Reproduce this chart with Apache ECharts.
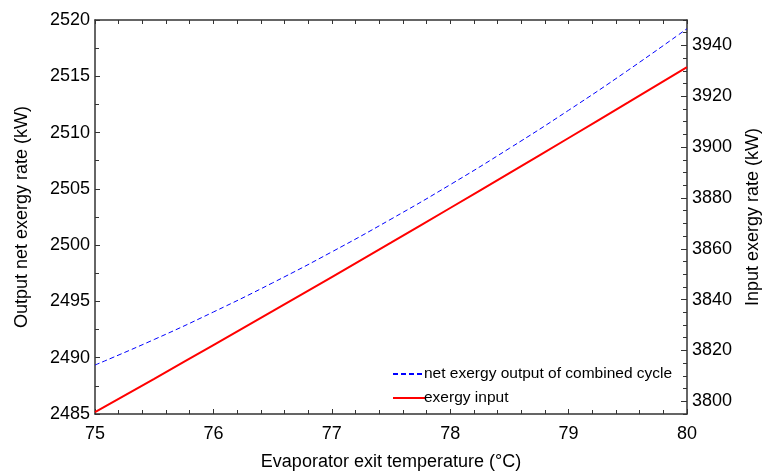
<!DOCTYPE html>
<html lang="en">

<head>
    <meta charset="UTF-8">
    <title>Exergy vs evaporator exit temperature</title>
    <style>
        html, body { margin: 0; padding: 0; background: #fff; }
        .chart { width: 763px; height: 472px; }
    </style>
</head>

<body>
    <div class="chart" id="chart"></div>
</body>
<script src="https://cdn.jsdelivr.net/npm/echarts@6/dist/echarts.min.js"></script>

<script>
    // evaporator exit temperature (°C)
    var temps = [75, 75.5, 76, 76.5, 77, 77.5, 78, 78.5, 79, 79.5, 80];
    // net exergy output of combined cycle (kW), left axis
    var netOutput = [2489.35, 2491.62, 2494.06, 2496.65, 2499.40, 2502.31, 2505.37, 2508.60, 2511.98, 2515.52, 2519.23];
    // exergy input (kW), right axis
    var exergyInput = [3795.7, 3808.85, 3822.1, 3835.45, 3848.88, 3862.4, 3876.04, 3889.77, 3903.58, 3917.5, 3931.5];
    var rightMajorTicks = [3800, 3820, 3840, 3860, 3880, 3900, 3920, 3940];

    var font = 'Liberation Sans, Arial, sans-serif';
    var lineColor = '#333';
    var plain = function (v) { return String(v); };

    var mChart = echarts.init(document.getElementById('chart'));
    var option = {
        animation: false,
        textStyle: { fontFamily: font },
        grid: { left: 95, right: 76, top: 20, bottom: 58, outerBoundsMode: 'none' },
        legend: {
            orient: 'vertical',
            left: 387,
            top: 361,
            itemWidth: 32,
            itemHeight: 12,
            itemGap: 8,
            itemStyle: { opacity: 0 },
            textStyle: { fontSize: 15.5, color: '#000', fontFamily: font, padding: [0, 0, 0, -6] },
            data: ['net exergy output of combined cycle', 'exergy input']
        },
        xAxis: [
            {
                type: 'value',
                min: 75, max: 80, interval: 1,
                name: 'Evaporator exit temperature (°C)',
                nameLocation: 'middle',
                nameGap: 39,
                nameTextStyle: { fontSize: 18, color: '#000' },
                axisLine: { lineStyle: { color: lineColor, width: 1.5 } },
                axisTick: { inside: true, length: 5, lineStyle: { color: lineColor } },
                minorTick: { show: true, splitNumber: 5, length: 4, lineStyle: { color: lineColor } },
                axisLabel: { fontSize: 18, color: '#000', margin: 11, formatter: plain },
                splitLine: { show: false }
            },
            {
                // top frame with mirrored ticks
                type: 'value', position: 'top',
                min: 75, max: 80, interval: 1,
                axisLine: { lineStyle: { color: lineColor, width: 1.5 } },
                axisTick: { inside: true, length: 4, lineStyle: { color: lineColor } },
                minorTick: { show: true, splitNumber: 5, length: 4, lineStyle: { color: lineColor } },
                axisLabel: { show: false },
                splitLine: { show: false }
            }
        ],
        yAxis: [
            {
                type: 'value',
                min: 2485, max: 2520, interval: 5,
                name: 'Output net exergy rate (kW)',
                nameLocation: 'middle',
                nameGap: 64,
                nameTextStyle: { fontSize: 18, color: '#000' },
                axisLine: { show: true, lineStyle: { color: lineColor, width: 1.5 } },
                axisTick: { inside: true, length: 5, lineStyle: { color: lineColor } },
                minorTick: { show: true, splitNumber: 2, length: 4, lineStyle: { color: lineColor } },
                axisLabel: { fontSize: 18, color: '#000', margin: 5, formatter: plain },
                splitLine: { show: false }
            },
            {
                type: 'value', position: 'right',
                min: 3795, max: 3950, interval: 5,
                name: 'Input exergy rate (kW)',
                nameLocation: 'middle',
                nameGap: 57,
                nameTextStyle: { fontSize: 18, color: '#000' },
                axisLine: { show: true, lineStyle: { color: lineColor, width: 1.5 } },
                axisTick: { inside: true, length: 4, lineStyle: { color: lineColor } },
                axisLabel: {
                    fontSize: 18, color: '#000', margin: 5,
                    formatter: function (v) { return v % 20 === 0 ? String(v) : ''; }
                },
                splitLine: { show: false }
            },
            {
                // longer ticks at the labelled values of the right axis
                type: 'value', position: 'right',
                min: 3795, max: 3950,
                axisLine: { show: false },
                axisTick: { inside: true, length: 6, customValues: rightMajorTicks, lineStyle: { color: lineColor } },
                axisLabel: { show: false },
                splitLine: { show: false }
            }
        ],
        series: [
            {
                name: 'net exergy output of combined cycle',
                type: 'line',
                yAxisIndex: 0,
                symbol: 'none',
                smooth: true,
                color: '#0000ff',
                lineStyle: { color: '#0000ff', width: 1, type: [5, 3] },
                data: temps.map(function (t, i) { return [t, netOutput[i]]; })
            },
            {
                name: 'exergy input',
                type: 'line',
                yAxisIndex: 1,
                symbol: 'none',
                smooth: true,
                color: '#ff0000',
                lineStyle: { color: '#ff0000', width: 2 },
                data: temps.map(function (t, i) { return [t, exergyInput[i]]; })
            }
        ]
    };

    mChart.setOption(option);
</script>

</html>
